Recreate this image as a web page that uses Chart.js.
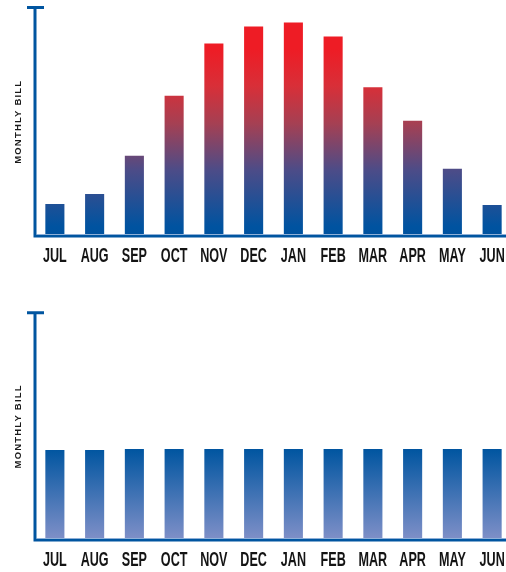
<!DOCTYPE html>
<html>
<head>
<meta charset="utf-8">
<script src="https://cdn.jsdelivr.net/npm/chart.js@4/dist/chart.umd.min.js"></script>
<style>
  html, body { margin: 0; padding: 0; background: #fff; overflow: hidden; }
  .box { position: relative; width: 512px; height: 286px; }
</style>
</head>
<body>
<div class="box"><canvas id="varChart"></canvas></div>
<div class="box"><canvas id="levelChart"></canvas></div>
<script>
// months on the x axis
const months = ['JUL', 'AUG', 'SEP', 'OCT', 'NOV', 'DEC', 'JAN', 'FEB', 'MAR', 'APR', 'MAY', 'JUN'];

// monthly bill, % of axis height
const billVariable = [14.0, 18.4, 35.1, 61.4, 84.2, 91.7, 93.4, 87.3, 65.1, 50.4, 29.4, 13.6];
const billLevel = [39.6, 39.6, 40.0, 40.0, 40.0, 40.0, 40.0, 40.0, 40.0, 40.0, 40.0, 40.0];

const axisMax = 100;
const axisTitle = 'MONTHLY BILL';

const BLUE = '#0055a0';

// Helper: vertical gradient between two y values, or plain blue if not laid out yet
function yGradient(chart, fromVal, toVal, stops) {
    const y = chart.scales.y;
    if (!y || !chart.chartArea) return BLUE;
    const y0 = y.getPixelForValue(fromVal), y1 = y.getPixelForValue(toVal);
    if (!isFinite(y0) || !isFinite(y1)) return BLUE;
    const g = chart.ctx.createLinearGradient(0, y0, 0, y1);
    stops.forEach(s => g.addColorStop(s[0], s[1]));
    return g;
}

// top chart: blue at the baseline turning red as the bill climbs
function heatGradient(chart) {
    return yGradient(chart, 0, 82, [
        [0, '#00529f'], [0.05, '#0053a0'], [0.35, '#4c4c88'],
        [0.6, '#a54053'], [0.8, '#d82f38'], [1, '#ee1c25']
    ]);
}

// bottom chart: dark blue top -> pale blue bottom
function levelGradient(chart) {
    return yGradient(chart, 40, 0, [[0, '#0055a0'], [1, '#8090c8']]);
}

// axis line, top tick, baseline, month labels and the rotated title
const axisDeco = {
    id: 'axisDeco',
    afterDatasetsDraw(chart) {
        const { ctx, chartArea: a, scales: { x, y } } = chart;
        const top = y.getPixelForValue(axisMax);
        const base = y.getPixelForValue(0);

        ctx.save();
        ctx.strokeStyle = BLUE;
        ctx.lineWidth = 3;
        ctx.lineCap = 'butt';
        ctx.beginPath();
        ctx.moveTo(a.left, top - 1.5);
        ctx.lineTo(a.left, base + 1.5);
        ctx.moveTo(a.left - 8, top);
        ctx.lineTo(a.left + 9, top);
        ctx.moveTo(a.left - 1.5, base);
        ctx.lineTo(chart.width, base);
        ctx.stroke();

        // pale edge on top of the baseline
        ctx.strokeStyle = '#8fb0d8';
        ctx.lineWidth = 1;
        ctx.beginPath();
        ctx.moveTo(a.left + 1.5, base - 1.5);
        ctx.lineTo(chart.width, base - 1.5);
        ctx.stroke();

        // month labels, squeezed into a condensed look
        ctx.fillStyle = '#141414';
        ctx.font = 'bold 21px "Liberation Sans", Arial, sans-serif';
        ctx.textAlign = 'center';
        ctx.textBaseline = 'middle';
        chart.data.labels.forEach((lab, i) => {
            ctx.save();
            ctx.translate(x.getPixelForValue(i), base + 20);
            ctx.scale(0.6, 1);
            ctx.fillText(lab, 0, 0);
            ctx.restore();
        });

        // y title
        ctx.save();
        ctx.translate(18.5, (top + base) / 2);
        ctx.rotate(-Math.PI / 2);
        ctx.font = 'bold 9.5px "Liberation Sans", sans-serif';
        ctx.letterSpacing = '1.2px';
        ctx.fillStyle = '#1a1a1a';
        ctx.fillText(axisTitle, 0, 0);
        ctx.restore();
        ctx.restore();
    }
};

// Build bar chart
function createBillChart(canvas, values, colorFn, padding) {
    return new Chart(canvas.getContext('2d'), {
        type: 'bar',
        data: {
            labels: months,
            datasets: [{
                data: values,
                backgroundColor: ctx => colorFn(ctx.chart),
                borderWidth: 0,
                categoryPercentage: 1,
                barPercentage: 0.48
            }]
        },
        options: {
            responsive: true,
            maintainAspectRatio: false,
            animation: false,
            layout: { padding: padding },
            plugins: {
                legend: { display: false },
                tooltip: { enabled: false }
            },
            scales: {
                x: { display: false },
                y: { display: false, min: 0, max: axisMax }
            }
        },
        plugins: [axisDeco]
    });
}

// Init
createBillChart(document.getElementById('varChart'), billVariable, heatGradient,
    { left: 35, right: 0, top: 7.5, bottom: 50 });
createBillChart(document.getElementById('levelChart'), billLevel, levelGradient,
    { left: 35, right: 0, top: 26.7, bottom: 32 });
</script>
</body>
</html>
